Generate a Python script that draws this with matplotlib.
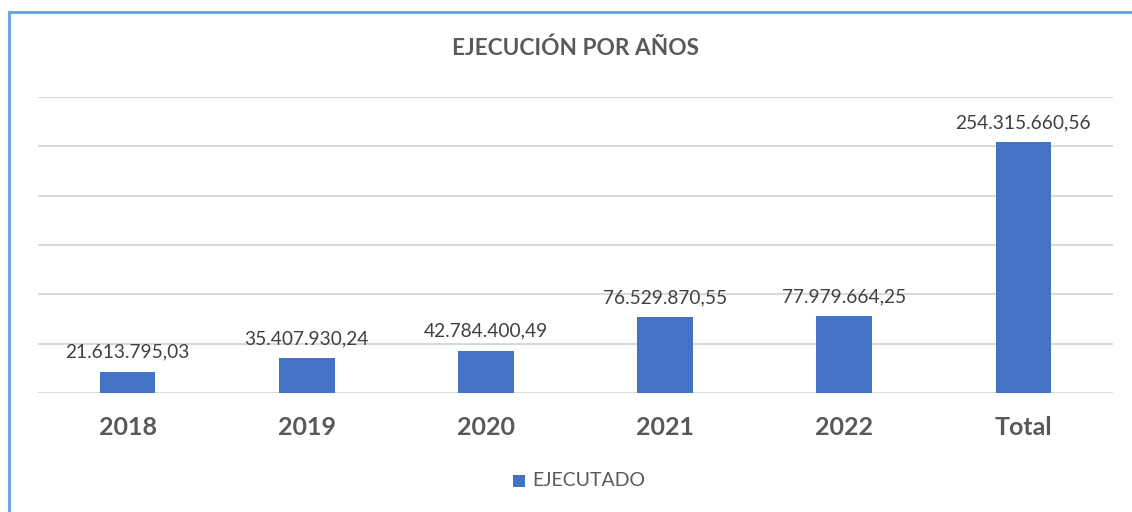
import matplotlib
matplotlib.use('Agg')
import matplotlib.pyplot as plt
from matplotlib.patches import Rectangle

# Datos
categorias = ['2018', '2019', '2020', '2021', '2022', 'Total']
ejecutado = [21613795.03, 35407930.24, 42784400.49, 76529870.55, 77979664.25, 254315660.56]
titulo = 'EJECUCIÓN POR AÑOS'
serie = 'EJECUTADO'

azul = '#4472c4'
gris_texto = '#595959'
gris_etiqueta = '#404040'

plt.rcParams['font.family'] = ['Lato', 'DejaVu Sans']


def formato_es(v):
    s = f'{v:,.2f}'
    return s.replace(',', 'X').replace('.', ',').replace('X', '.')


fig = plt.figure(figsize=(11.32, 5.12), dpi=100, facecolor='white')

# Marco del gráfico
marco = Rectangle((9 / 1132, -0.05), 1.2, 1 - 12 / 512 + 0.05, transform=fig.transFigure,
                  fill=False, edgecolor='#6fa8dc', linewidth=2.2)
fig.patches.append(marco)

ax = fig.add_axes([38 / 1132, 1 - 393 / 512, 1075 / 1132, 296 / 512])
x = range(len(categorias))
barras = ax.bar(x, ejecutado, width=0.31, color=azul, zorder=3)

ax.set_xlim(-0.5, len(categorias) - 0.5)
ax.set_ylim(0, 300e6)
ax.set_yticks([i * 50e6 for i in range(7)])
ax.yaxis.grid(True, color='#d9d9d9', linewidth=1.5, zorder=0)
ax.tick_params(axis='y', left=False, labelleft=False)
ax.tick_params(axis='x', bottom=False, pad=13)
ax.set_xticks(list(x))
ax.set_xticklabels(categorias, fontsize=18, fontweight='bold', color=gris_texto)
for spine in ax.spines.values():
    spine.set_visible(False)

for b, v in zip(barras, ejecutado):
    ax.annotate(formato_es(v), (b.get_x() + b.get_width() / 2, v), xytext=(0, 8),
                textcoords='offset points', ha='center', va='bottom',
                fontsize=13.8, color=gris_etiqueta)

fig.text(576 / 1132, 1 - 48 / 512, titulo, ha='center', va='center',
         fontsize=16.3, fontweight='bold', color=gris_texto)

# Leyenda
fig.patches.append(Rectangle((513 / 1132, 1 - 487 / 512), 12 / 1132, 12 / 512,
                             transform=fig.transFigure, facecolor=azul, edgecolor='none'))
fig.text(532 / 1132, 1 - 481 / 512, serie, ha='left', va='center',
         fontsize=14, color=gris_texto)

fig.savefig('out.png', dpi=100, facecolor='white')
